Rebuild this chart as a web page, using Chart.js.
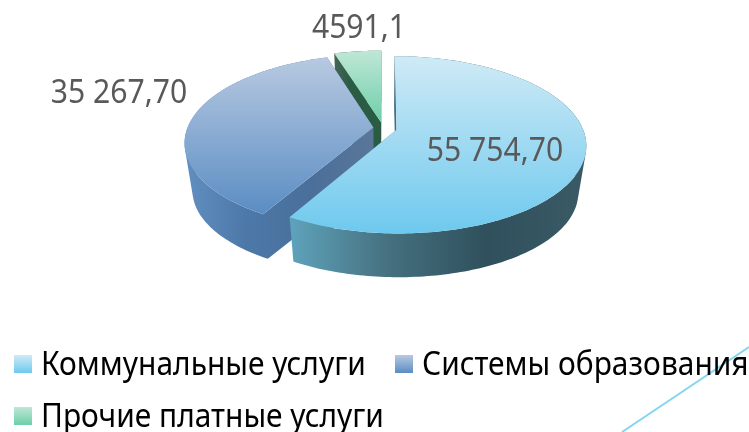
<!DOCTYPE html>
<html>
<head>
<meta charset="utf-8">
<script src="https://cdn.jsdelivr.net/npm/chart.js@4"></script>
<style>
    html, body { margin: 0; padding: 0; background: #fff; }
    #wrap { position: relative; width: 749px; height: 432px; overflow: hidden; }
    #legend div.item {
        position: absolute; white-space: nowrap; color: #000;
        font: 32px "Noto Sans", sans-serif; line-height: 40px; height: 40px;
    }
    #legend span.txt { display: inline-block; transform: scaleX(0.935); transform-origin: 0 50%; }
    #legend span.box { position: absolute; left: -27px; top: 12px; width: 18px; height: 18px; }
</style>
</head>
<body>
<div id="wrap">
    <canvas id="chart" width="749" height="432"></canvas>
    <div id="legend"></div>
</div>
<script>
    const categories = ['Коммунальные услуги', 'Системы образования', 'Прочие платные услуги'];
    const values = [55754.7, 35267.7, 4591.1];
    const valueLabels = ['55 754,70', '35 267,70', '4591,1'];

    // slice styling
    const explode = [0.075, 0.052, 0.07];
    const topColors = [['#cfeaf6', '#6ec9ee'], ['#b8c9e1', '#5a8dc3'], ['#bfe7d6', '#6dcfa9']];
    const wallColors = [
        ['#5fa3bc', '#45707f', '#2f505c', '#3a5a66'],
        ['#618fc0', '#4c78a8', '#4a6f9a', '#5a7698'],
        ['#466659', '#2a5c44', '#2a5c44', '#2a5c44']
    ];
    const labelPos = [[495, 152], [119, 94], [359, 29]];
    const legendPos = [[41, 343], [422, 343], [41, 395]];

    // projection of the pie plane on screen
    const cx = 383, cy = 128, R = 186, Ry = 85.5, persp = 0.17;
    const wallScale = 0.96, wallDrop = 48;

    function project(u, v) {
        const w = 1 + persp * v;
        return [cx + R * u / w, cy - Ry * v / w];
    }
    function drop(p) {
        return [cx + (p[0] - cx) * wallScale, cy + (p[1] - cy) * wallScale + wallDrop];
    }

    function slicePath(arc, ex) {
        const mid = (arc.startAngle + arc.endAngle) / 2;
        const ou = Math.cos(mid) * ex, ov = -Math.sin(mid) * ex;
        const rim = [];
        const steps = Math.ceil((arc.endAngle - arc.startAngle) / 0.02);
        for (let i = 0; i <= steps; i++) {
            const a = arc.startAngle + (arc.endAngle - arc.startAngle) * i / steps;
            rim.push(project(ou + Math.cos(a), ov - Math.sin(a)));
        }
        return { apex: project(ou, ov), rim };
    }

    function addPoly(ctx, pts) {
        // same winding for every polygon, otherwise overlaps cancel out in one path
        let area = 0;
        pts.forEach((p, i) => {
            const q = pts[(i + 1) % pts.length];
            area += p[0] * q[1] - q[0] * p[1];
        });
        const list = area < 0 ? pts.slice().reverse() : pts;
        list.forEach((p, i) => i ? ctx.lineTo(p[0], p[1]) : ctx.moveTo(p[0], p[1]));
        ctx.closePath();
    }

    const pie3d = {
        id: 'pie3d',
        beforeDatasetsDraw(chart) {
            const ctx = chart.ctx;
            const arcs = chart.getDatasetMeta(0).data;
            // back to front: green, blue, light blue
            [2, 1, 0].forEach(i => {
                const s = slicePath(arcs[i], explode[i]);
                const all = s.rim.concat([s.apex]);
                const xs = all.map(p => p[0]), ys = all.map(p => p[1]);
                const x0 = Math.min(...xs), x1 = Math.max(...xs);

                const wall = ctx.createLinearGradient(x0, 0, x1, 0);
                wallColors[i].forEach((c, k) => wall.addColorStop(k / (wallColors[i].length - 1), c));

                // extruded body, all quads in one path so no seams show between them
                const first = s.rim[0], last = s.rim[s.rim.length - 1];
                ctx.beginPath();
                addPoly(ctx, [s.apex, first, drop(first), drop(s.apex)]);
                addPoly(ctx, [s.apex, last, drop(last), drop(s.apex)]);
                for (let k = 0; k < s.rim.length - 1; k++) {
                    const a = s.rim[k], b = s.rim[k + 1];
                    addPoly(ctx, [a, b, drop(b), drop(a)]);
                }
                ctx.fillStyle = wall;
                ctx.fill();

                // top face
                const top = ctx.createLinearGradient(0, Math.min(...ys), 0, Math.max(...ys));
                top.addColorStop(0, topColors[i][0]);
                top.addColorStop(1, topColors[i][1]);
                ctx.beginPath();
                addPoly(ctx, all);
                ctx.fillStyle = top;
                ctx.fill();
            });
            return false;
        },
        afterDraw(chart) {
            const ctx = chart.ctx;
            ctx.save();
            ctx.font = '32px "Noto Sans", sans-serif';
            ctx.fillStyle = '#595959';
            ctx.textAlign = 'center';
            ctx.textBaseline = 'middle';
            valueLabels.forEach((t, i) => {
                ctx.save();
                ctx.translate(labelPos[i][0], labelPos[i][1]);
                ctx.scale(0.94, 1);
                ctx.fillText(t, 0, 0);
                ctx.restore();
            });
            // corner decoration from the slide
            ctx.strokeStyle = '#86d6f2';
            ctx.lineWidth = 2;
            ctx.beginPath();
            ctx.moveTo(749, 347);
            ctx.lineTo(622, 432);
            ctx.stroke();
            ctx.restore();
        }
    };

    new Chart(document.getElementById('chart'), {
        type: 'pie',
        data: { labels: categories, datasets: [{ data: values, backgroundColor: topColors.map(c => c[1]), borderWidth: 0 }] },
        options: {
            responsive: false,
            animation: false,
            plugins: { legend: { display: false }, tooltip: { enabled: false } }
        },
        plugins: [pie3d]
    });

    const legend = document.getElementById('legend');
    legend.innerHTML = categories.map((c, i) =>
        `<div class="item" style="left:${legendPos[i][0]}px;top:${legendPos[i][1]}px">` +
        `<span class="box" style="background:linear-gradient(${topColors[i][0]},${topColors[i][1]})"></span>` +
        `<span class="txt">${c}</span></div>`
    ).join('');
</script>
</body>
</html>
